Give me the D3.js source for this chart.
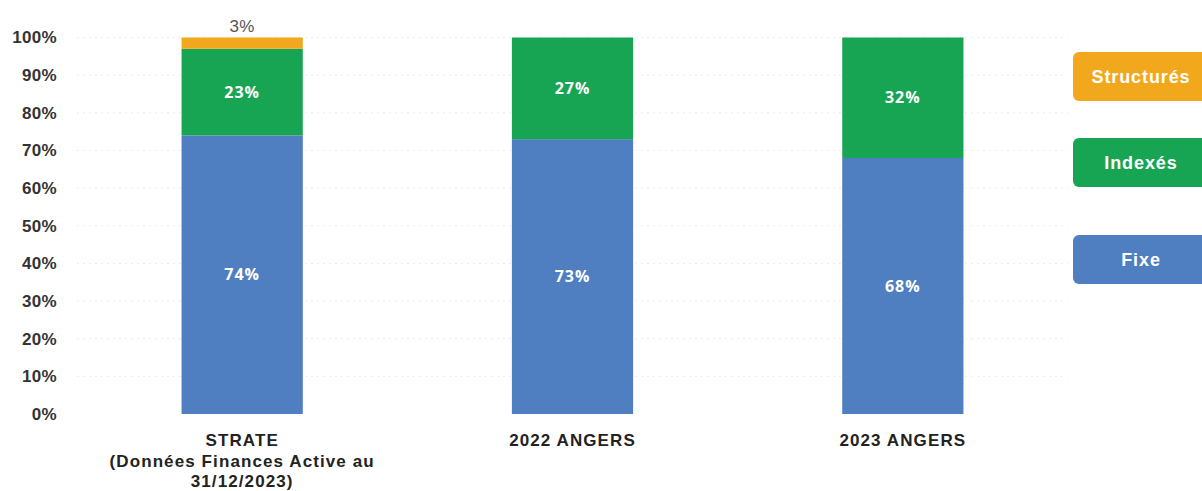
<!DOCTYPE html>
<html>
<head>
<meta charset="utf-8">
<script src="https://cdn.jsdelivr.net/npm/d3@7"></script>
<style>
  body { margin: 0; background: #fff; }
  svg { display: block; font-family: "Liberation Sans", Arial, sans-serif; }
</style>
</head>
<body>
<svg id="chart" width="1202" height="491"></svg>
<script>
const categories = ['STRATE\n(Données Finances Active au\n31/12/2023)', '2022 ANGERS', '2023 ANGERS'];
const series = ['fixe', 'indexes', 'structures'];
const seriesLabels = ['Fixe', 'Indexés', 'Structurés'];
const fixe = [74, 73, 68];
const indexes = [23, 27, 32];
const structures = [3, 0, 0];
const yTicks = [0, 10, 20, 30, 40, 50, 60, 70, 80, 90, 100];

const colours = {fixe: '#4f7fc0', indexes: '#18a553', structures: '#f2a81d'};

const svg = d3.select('#chart');
const margin = {top: 37.5, left: 77, right: 134, bottom: 77};
const width = 1202 - margin.left - margin.right;
const height = 491 - margin.top - margin.bottom;

const chart = svg.append('g')
  .attr('transform', `translate(${margin.left},${margin.top})`);

const data = categories.map((c, i) => ({
  cat: c, fixe: fixe[i], indexes: indexes[i], structures: structures[i]
}));

const xScale = d3.scaleBand()
  .domain(categories)
  .range([0, width])
  .paddingInner(0.633)
  .paddingOuter(0.3165);

const yScale = d3.scaleLinear()
  .domain([0, 100])
  .range([height, 0]);

// faint dotted gridlines
chart.selectAll('.grid')
  .data(yTicks.slice(1))
  .enter()
  .append('line')
    .attr('x1', 0)
    .attr('x2', width)
    .attr('y1', d => yScale(d))
    .attr('y2', d => yScale(d))
    .attr('stroke', '#ececec')
    .attr('stroke-dasharray', '2,4');

const yAxis = d3.axisLeft(yScale)
  .tickValues(yTicks)
  .tickFormat(d => d + '%')
  .tickSize(0)
  .tickPadding(20);

const yAxisG = chart.append('g').call(yAxis);
yAxisG.select('.domain').remove();
yAxisG.selectAll('text')
  .attr('fill', '#333')
  .style('font-size', '17px')
  .style('letter-spacing', '0.3px')
  .style('font-weight', 'bold');

const stacked = d3.stack().keys(series)(data);

chart.selectAll('.layer')
  .data(stacked)
  .enter()
  .append('g')
    .attr('class', d => 'layer ' + d.key)
    .attr('fill', d => colours[d.key])
  .selectAll('rect')
  .data(d => d)
  .enter()
  .append('rect')
    .attr('x', d => xScale(d.data.cat))
    .attr('y', d => yScale(d[1]))
    .attr('width', xScale.bandwidth())
    .attr('height', d => yScale(d[0]) - yScale(d[1]));

// labels inside bars
stacked.filter(s => s.key !== 'structures').forEach(s => {
  chart.selectAll('.lbl-' + s.key)
    .data(s)
    .enter()
    .append('text')
      .attr('x', d => xScale(d.data.cat) + xScale.bandwidth() / 2)
      .attr('y', d => yScale((d[0] + d[1]) / 2))
      .attr('dy', '0.35em')
      .attr('text-anchor', 'middle')
      .attr('fill', '#fff')
      .style('font-family', '"Open Sans", sans-serif')
      .style('font-size', '16px')
      .style('letter-spacing', '1px')
      .style('font-weight', 'bold')
      .text(d => (d[1] - d[0]) + '%');
});

// small value above the first bar
chart.selectAll('.lbl-top')
  .data(stacked[2].filter(d => d[1] - d[0] > 0))
  .enter()
  .append('text')
    .attr('x', d => xScale(d.data.cat) + xScale.bandwidth() / 2)
    .attr('y', d => yScale(d[1]) - 6)
    .attr('text-anchor', 'middle')
    .attr('fill', '#555')
    .style('font-size', '17px')
    .style('letter-spacing', '0.5px')
    .text(d => (d[1] - d[0]) + '%');

// x labels
const xLabels = chart.selectAll('.xlabel')
  .data(categories)
  .enter()
  .append('text')
    .attr('class', 'xlabel')
    .attr('x', d => xScale(d) + xScale.bandwidth() / 2)
    .attr('y', height + 32)
    .attr('text-anchor', 'middle')
    .attr('fill', '#222')
    .style('font-size', '17px')
    .style('letter-spacing', '1.1px')
    .style('font-weight', 'bold');

xLabels.selectAll('tspan')
  .data(d => d.split('\n'))
  .enter()
  .append('tspan')
    .attr('x', function() { return d3.select(this.parentNode).attr('x'); })
    .attr('dy', (d, i) => i === 0 ? 0 : 20.5)
    .text(d => d);

// legend boxes
const legendKeys = ['structures', 'indexes', 'fixe'];
const legendY = [52, 138, 235];
const legend = svg.selectAll('.legend')
  .data(legendKeys)
  .enter()
  .append('g')
    .attr('class', 'legend')
    .attr('transform', (d, i) => `translate(1073,${legendY[i]})`);

legend.append('rect')
  .attr('width', 140)
  .attr('height', 49)
  .attr('rx', 6)
  .attr('fill', d => colours[d]);

legend.append('text')
  .attr('x', 68)
  .attr('y', 25)
  .attr('dy', '0.35em')
  .attr('text-anchor', 'middle')
  .attr('fill', '#fff')
  .style('font-size', '18px')
  .style('letter-spacing', '0.9px')
  .style('font-weight', 'bold')
  .text(d => seriesLabels[series.indexOf(d)]);
</script>
</body>
</html>
